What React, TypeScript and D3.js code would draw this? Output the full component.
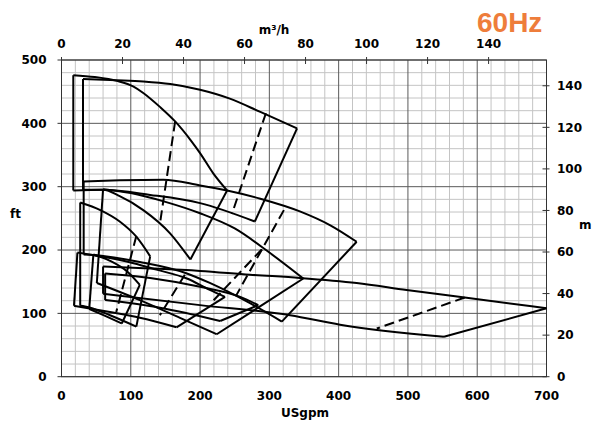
import * as d3 from 'd3';

// axis ticks
const gpmTicks = [0, 100, 200, 300, 400, 500, 600, 700];
const ftTicks = [0, 100, 200, 300, 400, 500];
const m3hTicks = [0, 20, 40, 60, 80, 100, 120, 140];
const mTicks = [0, 20, 40, 60, 80, 100, 120, 140];

// pump envelopes in [USgpm, ft]; top = max impeller, bottom = min impeller
const pump1Top = [[17, 476], [48, 473], [80, 467], [104, 458], [118, 448], [142, 426], [164, 403], [186, 374], [200, 353], [219, 321], [239, 294]];
const pump1Bottom = [[17, 294], [60, 295], [84, 285], [118, 263], [157, 226], [186, 185]];

const pump2Top = [[31, 470], [80, 468], [118, 466], [157, 462], [200, 453], [243, 439], [287, 418], [340, 392]];
const pump2Bottom = [[31, 295], [60, 295], [128, 287], [200, 274], [279, 245]];

const pump3Top = [[32, 308], [84, 310], [147, 311], [200, 302], [239, 294], [287, 281], [344, 261], [388, 239], [426, 213]];
const pump3Bottom = [[32, 193], [46, 192], [113, 181], [181, 163], [214, 148], [272, 116], [318, 87]];

const pump4Top = [[60, 296], [100, 290], [150, 276], [200, 258], [250, 234], [300, 196], [349, 155]];
const pump4Bottom = [[51, 148], [113, 121], [171, 93], [224, 67]];

const pump5Top = [[27, 275], [56, 263], [84, 245], [108, 221], [128, 190]];
const pump5Bottom = [[27, 112], [34, 111], [70, 97], [108, 79]];

const pump6Top = [[23, 196], [56, 190], [104, 179], [137, 169], [181, 155], [214, 137], [236, 126]];
const pump6Bottom = [[18, 112], [70, 102], [113, 93], [166, 78]];

const pump7Top = [[46, 193], [70, 183], [96, 165], [113, 145]];
const pump7Bottom = [[40, 107], [63, 96], [87, 84]];

const pump8Top = [[63, 163], [128, 156], [200, 142], [258, 126], [284, 113]];
const pump8Bottom = [[63, 121], [142, 109], [229, 88]];

const pump9Top = [[60, 174], [128, 171], [200, 167], [272, 161], [344, 156], [426, 148], [498, 137], [582, 125], [700, 108]];
const pump9Bottom = [[60, 131], [75, 129], [200, 113], [330, 97], [402, 82], [552, 63]];

// dashed split lines, [USgpm, ft]
const dashed1 = [[164, 403], [142, 241]];
const dashed2 = [[295, 416], [246, 257]];
const dashed3 = [[321, 263], [252, 128]];
const dashed4 = [[289, 201], [219, 120]];
const dashed5 = [[108, 222], [79, 102]];
const dashed6 = [[178, 161], [142, 97]];
const dashed7 = [[582, 125], [455, 76]];

const pumps = [
  { top: pump1Top, bottom: pump1Bottom },
  { top: pump2Top, bottom: pump2Bottom },
  { top: pump3Top, bottom: pump3Bottom },
  { top: pump4Top, bottom: pump4Bottom },
  { top: pump5Top, bottom: pump5Bottom },
  { top: pump6Top, bottom: pump6Bottom },
  { top: pump7Top, bottom: pump7Bottom },
  { top: pump8Top, bottom: pump8Bottom },
  { top: pump9Top, bottom: pump9Bottom },
];
const dashedLines = [dashed1, dashed2, dashed3, dashed4, dashed5, dashed6, dashed7];

const W = 592;
const H = 421;
const FONT = '"DejaVu Sans", Verdana, sans-serif';

export default function App() {
  const x = d3.scaleLinear().domain([0, 700]).range([61.5, 546.5]);
  const y = d3.scaleLinear().domain([0, 500]).range([376.7, 60]);
  const xTop = d3.scaleLinear().domain([0, 700 / 4.4029]).range(x.range());
  const yRight = d3.scaleLinear().domain([0, 500 * 0.3048]).range(y.range());

  const curved = d3.line<number[]>().x(d => x(d[0])).y(d => y(d[1])).curve(d3.curveMonotoneX);
  const straight = d3.line<number[]>().x(d => x(d[0])).y(d => y(d[1]));

  const [x0, x1] = x.range();
  const [y0, y1] = y.range();

  const minorX = d3.range(0, 701, 20).filter(v => v % 100 !== 0);
  const minorY = d3.range(0, 501, 20).filter(v => v % 100 !== 0);

  return (
    <svg width={W} height={H} style={{ position: 'absolute', left: 0, top: 0, background: '#fff' }}
      fontFamily={FONT} fontWeight="bold" fontSize={12}>
      <rect width={W} height={H} fill="#fff" />
      {/* grid */}
      <g stroke="#c4c4c4" strokeWidth={1}>
        {minorX.map(v => <line key={'mx' + v} x1={x(v)} x2={x(v)} y1={y1} y2={y0} />)}
        {minorY.map(v => <line key={'my' + v} x1={x0} x2={x1} y1={y(v)} y2={y(v)} />)}
      </g>
      <g stroke="#5a5a5a" strokeWidth={1}>
        {gpmTicks.map(v => <line key={'Mx' + v} x1={x(v)} x2={x(v)} y1={y1} y2={y0} />)}
        {ftTicks.map(v => <line key={'My' + v} x1={x0} x2={x1} y1={y(v)} y2={y(v)} />)}
      </g>
      <rect x={x0} y={y1} width={x1 - x0} height={y0 - y1} fill="none" stroke="#333" strokeWidth={1} />

      {/* pump ranges */}
      <g fill="none" stroke="#000" strokeWidth={2} strokeLinejoin="round">
        {pumps.map((p, i) => {
          const t = p.top, b = p.bottom;
          return (
            <g key={i}>
              <path d={curved(t) || ''} />
              <path d={curved(b) || ''} />
              <path d={straight([b[0], t[0]]) || ''} />
              <path d={straight([t[t.length - 1], b[b.length - 1]]) || ''} />
            </g>
          );
        })}
        {dashedLines.map((l, i) => (
          <path key={'d' + i} d={straight(l) || ''} strokeDasharray="10,5" />
        ))}
      </g>

      {/* left axis */}
      <g>
        {ftTicks.map(v => (
          <g key={'ft' + v}>
            <line x1={x0 - 4} x2={x0} y1={y(v)} y2={y(v)} stroke="#333" />
            <text x={x0 - 15} y={y(v)} dy="0.35em" textAnchor="end">{v}</text>
          </g>
        ))}
        <text x={10} y={218}>ft</text>
      </g>
      {/* bottom axis */}
      <g>
        {gpmTicks.map(v => (
          <text key={'g' + v} x={x(v)} y={400} textAnchor="middle">{v}</text>
        ))}
        <text x={305} y={417} textAnchor="middle">USgpm</text>
      </g>
      {/* top axis */}
      <g>
        {m3hTicks.map(v => (
          <g key={'q' + v}>
            <line x1={xTop(v)} x2={xTop(v)} y1={y1 - 3} y2={y1 + 4} stroke="#333" />
            <text x={xTop(v)} y={48} textAnchor="middle">{v}</text>
          </g>
        ))}
        <text x={274} y={34} textAnchor="middle">m³/h</text>
      </g>
      {/* right axis */}
      <g>
        {mTicks.map(v => (
          <g key={'m' + v}>
            <line x1={x1 - 4} x2={x1 + 3} y1={yRight(v)} y2={yRight(v)} stroke="#333" />
            <text x={557} y={yRight(v)} dy="0.35em">{v}</text>
          </g>
        ))}
        <text x={579} y={229}>m</text>
      </g>
      <text x={477} y={32} fontSize={28} fontFamily='"Liberation Sans", Arial, sans-serif' fill="#EE7D3B">60Hz</text>
    </svg>
  );
}
